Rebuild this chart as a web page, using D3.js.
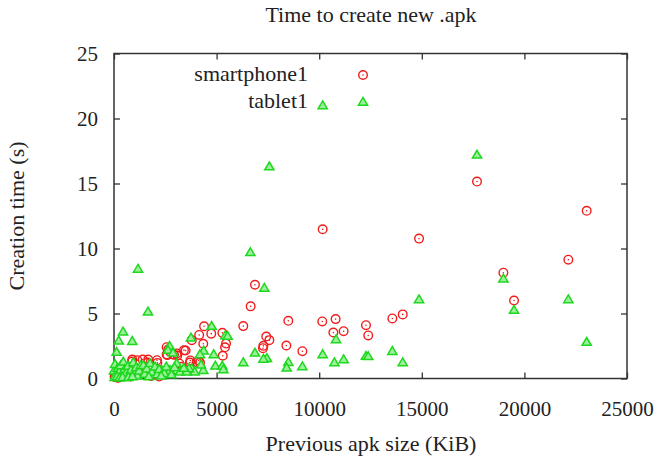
<!DOCTYPE html>
<html>
<head>
<meta charset="utf-8">
<script src="https://cdn.jsdelivr.net/npm/d3@7"></script>
<style>
  body { margin: 0; background: #fff; }
  text { font-family: "Liberation Serif", "DejaVu Serif", serif; fill: #222; }
</style>
</head>
<body>
<div id="chart"></div>
<script>
var width = 659;
var height = 457;
var plotLeft = 114, plotRight = 627, plotTop = 53.5, plotBottom = 378.5;

var xTicks = [0, 5000, 10000, 15000, 20000, 25000];
var yTicks = [0, 5, 10, 15, 20, 25];
var seriesNames = ['smartphone1', 'tablet1'];

// smartphone1: previous apk size (KiB) and creation time (s)
var phoneSize = [23035, 14865, 22140, 18975, 19495, 13565, 14070, 17690,
    10170, 6870, 6660, 6300, 8495, 10150, 10800, 10690, 11190, 12280, 12390,
    7420, 7570, 7280, 7260, 8400, 9180,
    4390, 4740, 4150, 5280, 4350, 5460, 5410, 5300, 3790, 3490, 3720, 3060,
    2650, 2565, 2565, 3085, 3185, 4130, 4030, 4190, 3700, 3410, 2925, 2600,
    2095, 2110, 1670, 1640, 1400, 1135, 890, 880,
    30, 120, 290, 540, 200, 700, 950, 1300, 1800, 2200, 450, 60, 150, 800,
    1550, 2500, 3000, 3300];
var phoneTime = [12.9, 10.76, 9.14, 8.14, 6.0, 4.62, 4.93, 15.15,
    11.48, 7.21, 5.55, 4.03, 4.44, 4.39, 4.57, 3.54, 3.64, 4.1, 3.31,
    3.23, 2.95, 2.51, 2.33, 2.54, 2.1,
    4.02, 3.45, 3.35, 3.51, 2.67, 2.69, 2.4, 1.75, 2.95, 2.15, 1.39, 1.93,
    2.25, 2.41, 1.85, 1.77, 1.16, 1.39, 1.26, 1.23, 1.23, 2.18, 1.82, 1.8,
    1.41, 1.2, 1.46, 1.23, 1.46, 1.41, 1.46, 1.3,
    0.12, 0.2, 0.25, 0.38, 0.05, 0.3, 0.5, 0.35, 0.2, 0.15, 0.6, 0.3, 0.1, 0.15,
    0.4, 0.5, 0.7, 0.9];

// tablet1
var tabletSize = [10170, 17690, 7570, 6645, 7325, 1170, 1655, 18975, 19495,
    14865, 22140, 23035, 13565, 14070,
    440, 230, 890, 130, 10820, 10170, 10740, 11190, 12280, 12390, 8495, 8415,
    9180, 6870, 7450, 7280, 6300,
    4760, 5425, 3750, 4370, 4860, 4940, 5280, 5330, 4350, 4240, 3790, 3930,
    2710, 2630, 2875, 5540, 4190, 3650, 3055, 3215, 3540, 2730, 2325,
    0, 50, 100, 180, 250, 320, 380, 455, 520, 600, 680, 750, 820, 940, 1000,
    1080, 1150, 1230, 1300, 1430, 1500, 1600, 1755, 1850, 2000, 2100, 2200,
    2450, 2550, 2800, 2950, 3400, 30, 150, 270, 420, 700, 900, 1700, 2300];
var tabletTime = [21.0, 17.2, 16.3, 9.7, 6.96, 8.42, 5.13, 7.67, 5.26,
    6.08, 6.08, 2.8, 2.1, 1.23,
    3.59, 2.9, 2.87, 2.03, 3.0, 1.85, 1.23, 1.46, 1.72, 1.7, 1.25, 0.82,
    0.92, 1.97, 1.55, 1.5, 1.23,
    4.03, 3.31, 3.13, 2.13, 1.85, 0.97, 0.97, 0.69, 0.64, 1.05, 0.77, 0.51,
    2.49, 2.18, 1.97, 3.26, 1.85, 0.77, 1.16, 0.51, 0.51, 0.64, 0.64,
    0.6, 1.1, 0.3, 0.8, 0.5, 1.0, 0.2, 1.28, 0.7, 0.45, 0.95, 0.3, 0.65, 1.23, 0.4,
    0.85, 0.2, 0.6, 1.0, 1.02, 0.35, 0.75, 1.16, 0.5, 0.9, 0.3, 0.7,
    0.4, 0.9, 0.3, 0.85, 0.8, 0.1, 0.15, 0.05, 0.1, 0.1, 0.15, 0.15, 0.2];

var red = '#f01c1c';
var green = '#1ed81e';
var fontFamily = '"Liberation Serif", "Times New Roman", serif';

var svg = d3.select('#chart')
    .append('svg')
    .attr('width', width)
    .attr('height', height);

var x = d3.scaleLinear().domain([0, 25000]).range([plotLeft, plotRight]);
var y = d3.scaleLinear().domain([0, 25]).range([plotBottom, plotTop]);

// axes, ticks pointing inward, mirrored on top and right
function styleAxis(g) {
    g.attr('font-family', fontFamily);
    g.select('.domain').remove();
    g.selectAll('.tick line').attr('stroke', '#333').attr('stroke-width', 1.3);
}

svg.append('g')
    .attr('transform', `translate(0, ${plotBottom})`)
    .call(d3.axisBottom(x).tickValues(xTicks).tickSizeInner(-6).tickPadding(23).tickFormat(d3.format('d')))
    .call(styleAxis)
    .selectAll('text')
    .attr('font-size', 21)
    .attr('fill', '#222');

svg.append('g')
    .attr('transform', `translate(0, ${plotTop})`)
    .call(d3.axisTop(x).tickValues(xTicks).tickSizeInner(-6).tickFormat(''))
    .call(styleAxis);

svg.append('g')
    .attr('transform', `translate(${plotLeft}, 0)`)
    .call(d3.axisLeft(y).tickValues(yTicks).tickSizeInner(-6).tickPadding(16))
    .call(styleAxis)
    .selectAll('text')
    .attr('font-size', 21)
    .attr('fill', '#222');

svg.append('g')
    .attr('transform', `translate(${plotRight}, 0)`)
    .call(d3.axisRight(y).tickValues(yTicks).tickSizeInner(-6).tickFormat(''))
    .call(styleAxis);

svg.append('rect')
    .attr('x', plotLeft)
    .attr('y', plotTop)
    .attr('width', plotRight - plotLeft)
    .attr('height', plotBottom - plotTop)
    .attr('fill', 'none')
    .attr('stroke', '#333')
    .attr('stroke-width', 1.5);

// markers
var triPath = 'M0,-4.6L4.6,3.2L-4.6,3.2Z';

function drawCircle(sel) {
    sel.append('circle')
        .attr('r', 4.3)
        .attr('fill', 'none')
        .attr('stroke', red)
        .attr('stroke-width', 1.4);
    sel.append('circle')
        .attr('r', 0.8)
        .attr('fill', red);
}

function drawTriangle(sel) {
    sel.append('path')
        .attr('d', triPath)
        .attr('fill', '#9cf09c')
        .attr('stroke', green)
        .attr('stroke-width', 1.5)
        .attr('stroke-linejoin', 'miter');
}

var plot = svg.append('g');

plot.selectAll('g.phone')
    .data(d3.range(phoneSize.length))
    .enter()
    .append('g')
    .attr('class', 'phone')
    .attr('transform', (i) => `translate(${x(phoneSize[i])}, ${y(phoneTime[i])})`)
    .call(drawCircle);

plot.selectAll('g.tablet')
    .data(d3.range(tabletSize.length))
    .enter()
    .append('g')
    .attr('class', 'tablet')
    .attr('transform', (i) => `translate(${x(tabletSize[i])}, ${y(tabletTime[i])})`)
    .call(drawTriangle);

// legend
var legend = svg.append('g').attr('font-family', fontFamily);
legend.append('text')
    .attr('x', 308).attr('y', 81)
    .attr('text-anchor', 'end')
    .attr('font-size', 22)
    .text(seriesNames[0]);
legend.append('g')
    .attr('transform', 'translate(363, 75)')
    .call(drawCircle);
legend.append('text')
    .attr('x', 308).attr('y', 108)
    .attr('text-anchor', 'end')
    .attr('font-size', 22)
    .text(seriesNames[1]);
legend.append('g')
    .attr('transform', 'translate(363, 102)')
    .call(drawTriangle);

// titles
svg.append('text')
    .attr('x', 371).attr('y', 22)
    .attr('text-anchor', 'middle')
    .attr('font-size', 22)
    .text('Time to create new .apk');

svg.append('text')
    .attr('x', 371).attr('y', 451)
    .attr('text-anchor', 'middle')
    .attr('font-size', 22)
    .text('Previous apk size (KiB)');

svg.append('text')
    .attr('transform', 'translate(24, 216) rotate(-90)')
    .attr('text-anchor', 'middle')
    .attr('font-size', 22)
    .text('Creation time (s)');
</script>
</body>
</html>
